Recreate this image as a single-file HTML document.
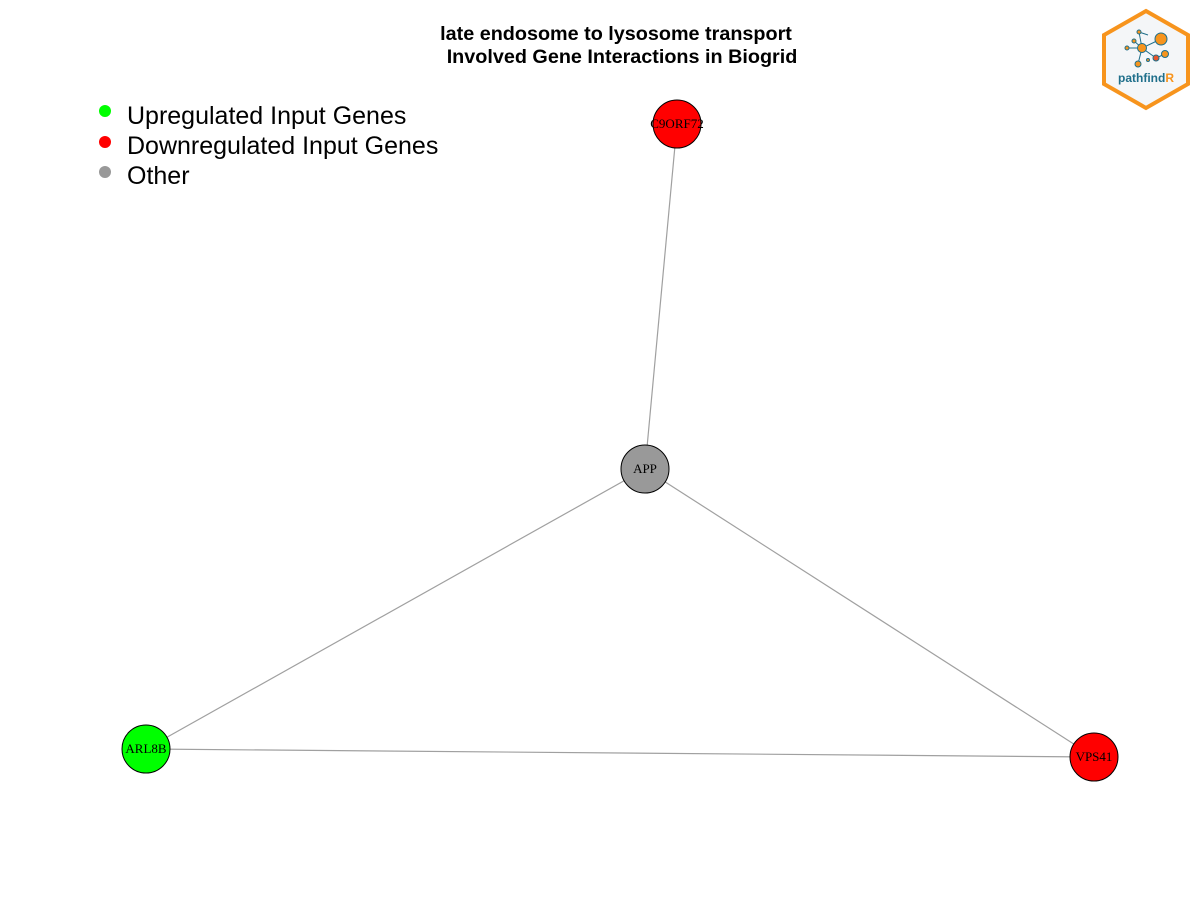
<!DOCTYPE html>
<html><head><meta charset="utf-8">
<style>
html,body{margin:0;padding:0;background:#fff;width:1200px;height:900px;overflow:hidden}
svg{display:block}
.t{font-family:"Liberation Sans",sans-serif;font-weight:bold;font-size:19.8px;fill:#000}
.lg{font-family:"Liberation Sans",sans-serif;font-size:25px;fill:#000}
.nl{font-family:"Liberation Serif",serif;font-size:13px;fill:#000}
</style></head><body>
<svg id="chart" width="1200" height="900">
<text class="t" x="616" y="40" text-anchor="middle">late endosome to lysosome transport</text>
<text class="t" x="622" y="63" text-anchor="middle">Involved Gene Interactions in Biogrid</text>
<g>
<circle cx="105" cy="111" r="6" fill="#00ff00"/>
<text class="lg" x="127" y="124">Upregulated Input Genes</text>
<circle cx="105" cy="142" r="6" fill="#ff0000"/>
<text class="lg" x="127" y="154">Downregulated Input Genes</text>
<circle cx="105" cy="172" r="6" fill="#999999"/>
<text class="lg" x="127" y="184">Other</text>
</g>
<g id="edges"></g>
<g id="nodes"></g>
<g>
<polygon points="1146,11 1188,35 1188,84 1146,108 1104,84 1104,35" fill="#f4f6f8" stroke="#f7941d" stroke-width="4"/>
<g stroke="#1f6f8b" stroke-width="1">
<line x1="1142" y1="48" x2="1161" y2="39"/><line x1="1142" y1="48" x2="1139" y2="32"/><line x1="1142" y1="48" x2="1127" y2="48"/><line x1="1142" y1="48" x2="1156" y2="58"/><line x1="1142" y1="48" x2="1138" y2="64"/><line x1="1156" y1="58" x2="1165" y2="54"/><line x1="1139" y1="32" x2="1148" y2="35"/><line x1="1142" y1="48" x2="1134" y2="41"/>
</g>
<circle cx="1161" cy="39" r="6" fill="#f7941d" stroke="#1f6f8b"/>
<circle cx="1142" cy="48" r="4.5" fill="#f7941d" stroke="#1f6f8b"/>
<circle cx="1165" cy="54" r="3.5" fill="#f7941d" stroke="#1f6f8b"/>
<circle cx="1156" cy="58" r="3" fill="#e8542a" stroke="#1f6f8b"/>
<circle cx="1138" cy="64" r="3" fill="#f7941d" stroke="#1f6f8b"/>
<circle cx="1127" cy="48" r="2" fill="#f7941d" stroke="#1f6f8b"/>
<circle cx="1139" cy="32" r="2" fill="#f7941d" stroke="#1f6f8b"/>
<circle cx="1134" cy="41" r="2" fill="#f7941d" stroke="#1f6f8b"/>
<circle cx="1148" cy="60" r="1.5" fill="#f7941d" stroke="#1f6f8b"/>
<text x="1118" y="82" font-family="Liberation Sans,sans-serif" font-weight="bold" font-size="12" fill="#1f6f8b">pathfind<tspan fill="#f7941d">R</tspan></text>
</g>
</svg>
<script>
const geneNames = ["C9ORF72","APP","ARL8B","VPS41"];
const geneStatus = ["down","other","up","down"];
const layoutX = [677,645,146,1094];
const layoutY = [124,469,749,757];
const edgeFrom = ["APP","APP","APP","ARL8B"];
const edgeTo = ["C9ORF72","ARL8B","VPS41","VPS41"];
const colors = {up:"#00ff00",down:"#ff0000",other:"#999999"};
const NS = "http://www.w3.org/2000/svg";
const idx = n => geneNames.indexOf(n);
const eg = document.getElementById("edges");
edgeFrom.forEach((f,i)=>{
  const a=idx(f), b=idx(edgeTo[i]);
  const l=document.createElementNS(NS,"line");
  l.setAttribute("x1",layoutX[a]);l.setAttribute("y1",layoutY[a]);
  l.setAttribute("x2",layoutX[b]);l.setAttribute("y2",layoutY[b]);
  l.setAttribute("stroke","#a0a0a0");l.setAttribute("stroke-width","1.2");
  
  
  eg.appendChild(l);
});
const ng = document.getElementById("nodes");
geneNames.forEach((n,i)=>{
  const c=document.createElementNS(NS,"circle");
  c.setAttribute("cx",layoutX[i]);c.setAttribute("cy",layoutY[i]);c.setAttribute("r",24);
  c.setAttribute("fill",colors[geneStatus[i]]);c.setAttribute("stroke","#000");c.setAttribute("stroke-width","1");
  
  
  ng.appendChild(c);
  const t=document.createElementNS(NS,"text");
  t.setAttribute("x",layoutX[i]);t.setAttribute("y",layoutY[i]+4);
  t.setAttribute("text-anchor","middle");t.setAttribute("class","nl");
  t.textContent=n;
  
  
  ng.appendChild(t);
});
</script>
</body></html>
